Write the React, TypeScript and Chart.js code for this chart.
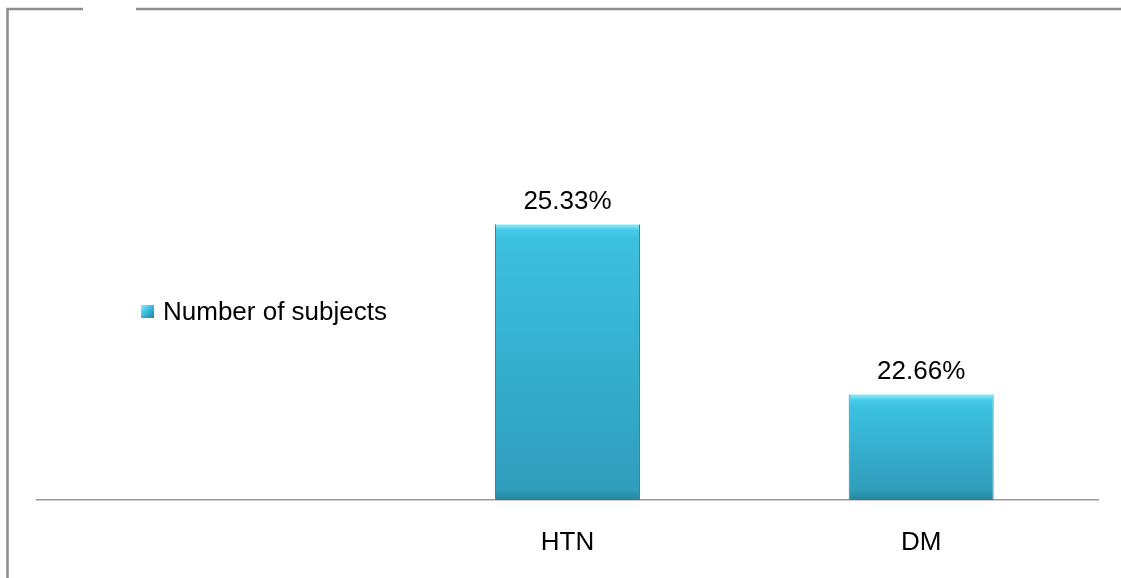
import React, { useEffect, useRef } from "react";
import { Chart, registerables } from "chart.js";

Chart.register(...registerables);

const categories: string[] = ["", "HTN", "DM"];
const seriesName = "Number of subjects";
const values: (number | null)[] = [null, 25.33, 22.66];
const valueLabels: string[] = ["", "25.33%", "22.66%"];
const yMin = 21;
const yMax = 27;

const FONT = "'Liberation Sans', Arial, sans-serif";

function barGradient(ctx: CanvasRenderingContext2D, top: number, bottom: number) {
  const g = ctx.createLinearGradient(0, top, 0, bottom);
  const h = Math.max(bottom - top, 1);
  const f = (px: number) => Math.min(px / h, 1);
  g.addColorStop(0, "#8eeefa");
  g.addColorStop(f(6), "#48cbe9");
  g.addColorStop(f(14), "#3cc0e1");
  g.addColorStop(Math.max(f(14), 1 - f(10)), "#2f9dbb");
  g.addColorStop(1, "#27839d");
  return g;
}

const overlayPlugin = {
  id: "overlay",
  beforeDraw(chart: any) {
    const ctx: CanvasRenderingContext2D = chart.ctx;
    ctx.save();
    ctx.strokeStyle = "#8e8e8e";
    ctx.lineWidth = 2.5;
    ctx.beginPath();
    ctx.moveTo(7.5, 578);
    ctx.lineTo(7.5, 9);
    ctx.lineTo(83, 9);
    ctx.moveTo(136, 9);
    ctx.lineTo(1121, 9);
    ctx.stroke();
    ctx.restore();
  },
  afterDatasetsDraw(chart: any) {
    const ctx: CanvasRenderingContext2D = chart.ctx;
    const meta = chart.getDatasetMeta(0);
    ctx.save();
    ctx.font = `26px ${FONT}`;
    ctx.fillStyle = "#000";
    ctx.textAlign = "center";
    ctx.textBaseline = "alphabetic";
    meta.data.forEach((bar: any, i: number) => {
      if (values[i] == null) return;
      ctx.fillText(valueLabels[i], bar.x, bar.y - 15);
    });
    // legend
    const bx = 141, by = 305, bs = 13;
    const g = ctx.createLinearGradient(bx, by, bx + bs, by + bs);
    g.addColorStop(0, "#8eeefa");
    g.addColorStop(0.45, "#3cbfe0");
    g.addColorStop(1, "#22809b");
    ctx.fillStyle = g;
    ctx.fillRect(bx, by, bs, bs);
    ctx.fillStyle = "#000";
    ctx.textAlign = "left";
    ctx.textBaseline = "middle";
    ctx.fillText(seriesName, 163, 313);
    ctx.restore();
  },
};

export default function App() {
  const ref = useRef<HTMLCanvasElement>(null);
  useEffect(() => {
    if (!ref.current) return;
    const chart = new Chart(ref.current, {
      type: "bar",
      data: {
        labels: categories,
        datasets: [
          {
            label: seriesName,
            data: values as any,
            backgroundColor: (c: any) => {
              const ca = c.chart.chartArea;
              const ys = c.chart.scales?.y;
              if (!ca || !ys || c.raw == null) return "#37b2d3";
              const top = ys.getPixelForValue(c.raw);
              return barGradient(c.chart.ctx, top, ca.bottom);
            },
            borderColor: "#2b8aa6",
            borderWidth: { top: 0, left: 1, right: 1, bottom: 1 },
            borderSkipped: false,
            categoryPercentage: 1,
            barPercentage: 0.41,
          },
        ],
      },
      options: {
        animation: false,
        responsive: false,
        maintainAspectRatio: false,
        layout: { padding: { left: 37, right: 23, top: 118, bottom: 0 } },
        plugins: {
          legend: { display: false },
          tooltip: { enabled: false },
        },
        scales: {
          x: {
            grid: { display: false, drawTicks: false },
            border: { display: true, color: "#999999", width: 1.5 },
            ticks: {
              color: "#000",
              font: { size: 26, family: FONT },
              padding: 27,
            },
            afterFit: (s: any) => {
              s.height = 78;
            },
          },
          y: {
            display: false,
            min: yMin,
            max: yMax,
          },
        },
      },
      plugins: [overlayPlugin],
    });
    return () => chart.destroy();
  }, []);
  return (
    <div style={{ position: "absolute", left: 0, top: 0, width: 1121, height: 578 }}>
      <canvas ref={ref} width={1121} height={578} style={{ width: 1121, height: 578, display: "block" }} />
    </div>
  );
}
